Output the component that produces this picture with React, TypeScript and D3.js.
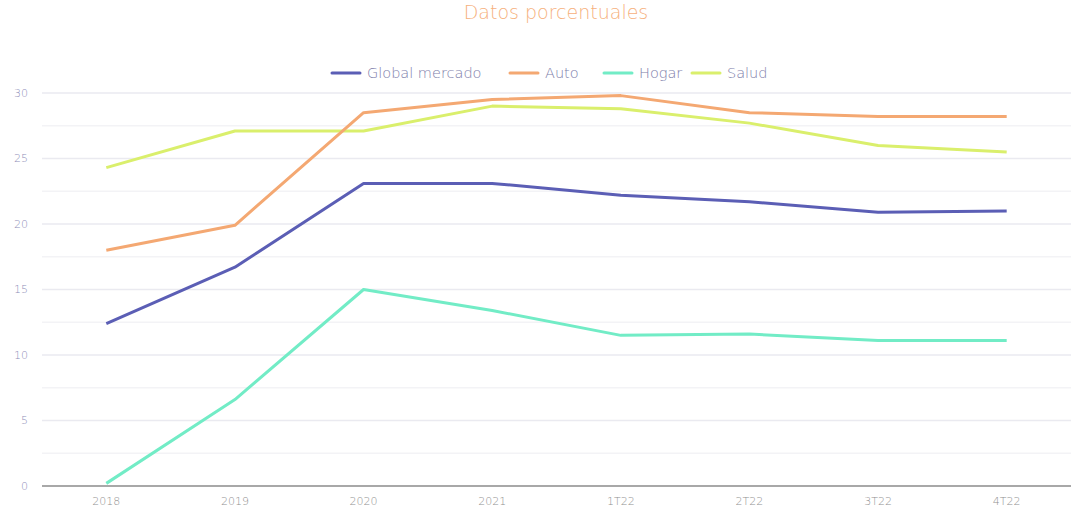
import { useEffect, useRef } from 'react';
import * as d3 from 'd3';

// Chart data
const categories = ['2018', '2019', '2020', '2021', '1T22', '2T22', '3T22', '4T22'];
const seriesNames = ['Global mercado', 'Auto', 'Hogar', 'Salud'];
const globalMercado = [12.4, 16.7, 23.1, 23.1, 22.2, 21.7, 20.9, 21.0];
const auto = [18.0, 19.9, 28.5, 29.5, 29.8, 28.5, 28.2, 28.2];
const hogar = [0.2, 6.6, 15.0, 13.4, 11.5, 11.6, 11.1, 11.1];
const salud = [24.3, 27.1, 27.1, 29.0, 28.8, 27.7, 26.0, 25.5];
const yTicks = [0, 5, 10, 15, 20, 25, 30];
const yMinorTicks = [2.5, 7.5, 12.5, 17.5, 22.5, 27.5];

const colors = ['#5b5eb5', '#f4a872', '#72ecc6', '#daef6c'];

const W = 1071;
const H = 513;

export default function App() {
    const ref = useRef<SVGSVGElement>(null);

    useEffect(() => {
        if (!ref.current) return;
        document.body.style.margin = '0';
        const svg = d3.select(ref.current);
        svg.selectAll('*').remove();

        const font = '"DejaVu Sans", sans-serif';
        const margin = { left: 42, right: 0, top: 93, bottom: 27 };

        const x = d3.scaleBand<string>()
            .domain(categories)
            .range([margin.left, W - margin.right]);
        const y = d3.scaleLinear()
            .domain([0, 30])
            .range([H - margin.bottom, margin.top]);
        const cx = (c: string) => (x(c) ?? 0) + x.bandwidth() / 2;

        // Title
        svg.append('text')
            .attr('x', 556)
            .attr('y', 19)
            .attr('text-anchor', 'middle')
            .style('font', `200 19px ${font}`)
            .attr('fill', '#f6b07c')
            .text('Datos porcentuales');

        // Grid
        const grid = svg.append('g');
        grid.selectAll('line.minor')
            .data(yMinorTicks)
            .join('line')
            .attr('class', 'minor')
            .attr('x1', margin.left)
            .attr('x2', W - margin.right)
            .attr('y1', d => y(d))
            .attr('y2', d => y(d))
            .attr('stroke', '#f3f3f6')
            .attr('stroke-width', 1.5);
        grid.selectAll('line.major')
            .data(yTicks.filter(d => d > 0))
            .join('line')
            .attr('class', 'major')
            .attr('x1', margin.left)
            .attr('x2', W - margin.right)
            .attr('y1', d => y(d))
            .attr('y2', d => y(d))
            .attr('stroke', '#eaeaf0')
            .attr('stroke-width', 1.5);

        // Y labels
        svg.append('g')
            .selectAll('text')
            .data(yTicks)
            .join('text')
            .attr('x', 28)
            .attr('y', d => y(d))
            .attr('dy', '0.35em')
            .attr('text-anchor', 'end')
            .style('font', `200 11px ${font}`)
            .attr('fill', '#8e8eb8')
            .text(d => d);

        // X axis line
        svg.append('line')
            .attr('x1', margin.left)
            .attr('x2', W - margin.right)
            .attr('y1', y(0))
            .attr('y2', y(0))
            .attr('stroke', '#a8a8a8')
            .attr('stroke-width', 2);

        svg.append('g')
            .selectAll('text')
            .data(categories)
            .join('text')
            .attr('x', d => cx(d))
            .attr('y', 505)
            .attr('text-anchor', 'middle')
            .style('font', `200 11px ${font}`)
            .attr('fill', '#909090')
            .text(d => d);

        // Lines
        const series = [globalMercado, auto, hogar, salud];
        const line = d3.line<number>()
            .x((_, i) => cx(categories[i]))
            .y(d => y(d));
        const order = [2, 0, 3, 1];
        order.forEach(i => {
            svg.append('path')
                .attr('d', line(series[i]))
                .attr('fill', 'none')
                .attr('stroke', colors[i])
                .attr('stroke-width', 3)
                .attr('stroke-linejoin', 'round');
        });

        // Legend
        const legendX = [332, 510, 604, 692];
        const legend = svg.append('g');
        seriesNames.forEach((name, i) => {
            legend.append('line')
                .attr('x1', legendX[i])
                .attr('x2', legendX[i] + 28)
                .attr('y1', 73)
                .attr('y2', 73)
                .attr('stroke', colors[i])
                .attr('stroke-width', 3)
                .attr('stroke-linecap', 'round');
            legend.append('text')
                .attr('x', legendX[i] + 35)
                .attr('y', 73)
                .attr('dy', '0.35em')
                .style('font', `200 14.5px ${font}`)
                .attr('fill', '#7e7eaa')
                .text(name);
        });
    }, []);

    return (
        <svg
            ref={ref}
            width={W}
            height={H}
            style={{ display: 'block', background: '#fff' }}
        />
    );
}
